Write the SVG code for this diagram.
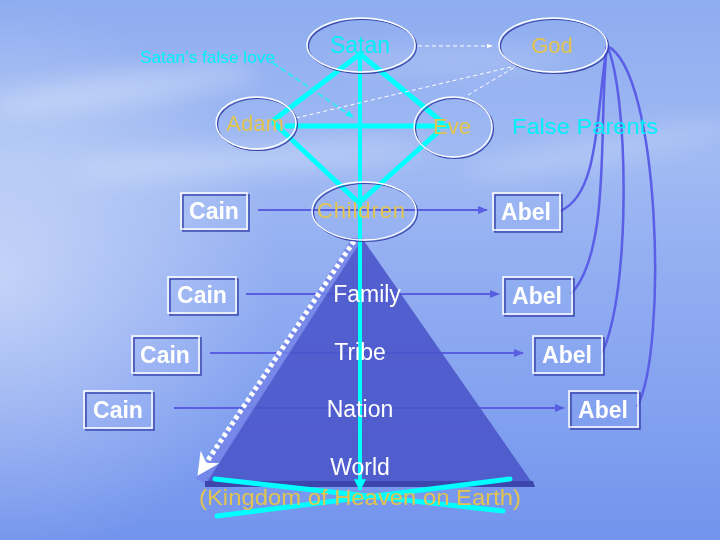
<svg xmlns="http://www.w3.org/2000/svg" width="720" height="540" viewBox="0 0 720 540">
<defs>
<linearGradient id="bg" x1="0" y1="0" x2="0" y2="1">
<stop offset="0" stop-color="#8eacf0"/>
<stop offset="0.3" stop-color="#a0baf3"/>
<stop offset="0.45" stop-color="#96b1f2"/>
<stop offset="1" stop-color="#7394ed"/>
</linearGradient>
<radialGradient id="glow" cx="0" cy="280" r="280" gradientUnits="userSpaceOnUse">
<stop offset="0" stop-color="#ffffff" stop-opacity="0.45"/>
<stop offset="1" stop-color="#ffffff" stop-opacity="0"/>
</radialGradient>
<filter id="blur" x="-50%" y="-50%" width="200%" height="200%"><feGaussianBlur stdDeviation="12"/></filter>
<marker id="ab" viewBox="0 0 10 10" refX="9" refY="5" markerWidth="5" markerHeight="5" orient="auto" markerUnits="strokeWidth">
<path d="M0,1 L10,5 L0,9 z" fill="#5a5ee0"/>
</marker>
<marker id="aw" viewBox="0 0 10 10" refX="9" refY="5" markerWidth="6" markerHeight="6" orient="auto" markerUnits="strokeWidth">
<path d="M0,1 L10,5 L0,9 z" fill="#ffffff"/>
</marker>
<marker id="ac" viewBox="0 0 10 10" refX="9" refY="5" markerWidth="4" markerHeight="4" orient="auto" markerUnits="strokeWidth">
<path d="M0,1 L10,5 L0,9 z" fill="#00ffff"/>
</marker>
<marker id="acv" viewBox="0 0 10 10" refX="9" refY="5" markerWidth="3" markerHeight="3" orient="auto" markerUnits="strokeWidth">
<path d="M0,0 L10,5 L0,10 z" fill="#00ffff"/>
</marker>
<marker id="adot" viewBox="0 0 10 10" refX="8" refY="5" markerWidth="4.5" markerHeight="4.5" orient="auto" markerUnits="strokeWidth">
<path d="M0,0 L10,5 L0,10 L3,5 z" fill="#ffffff"/>
</marker>
<style>
.ell{fill:none;stroke:#ffffff;stroke-width:1.3}
.ells{fill:none;stroke:#3a46a8;stroke-width:1.2}
.box{fill:none;stroke:#ffffff;stroke-width:1.5}
.boxs{fill:none;stroke:#3d48b0;stroke-width:1.5}
.bt{font-family:"Liberation Sans",Arial,sans-serif;font-weight:bold;font-size:23px;fill:#ffffff;text-anchor:middle}
.gold{font-family:"Liberation Sans",Arial,sans-serif;font-size:22px;fill:#e2c450;text-anchor:middle}
.cy{font-family:"Liberation Sans",Arial,sans-serif;fill:#00f0f8}
.wt{font-family:"Liberation Sans",Arial,sans-serif;font-size:23px;fill:#ffffff;text-anchor:middle}
.cyl{stroke:#00ffff;stroke-width:5;fill:none;stroke-linecap:round}
.bl{stroke:#5a5ee0;stroke-width:2;fill:none}
.cv{stroke:#5b5ee6;stroke-width:2.5;fill:none}
.wd{stroke:#ffffff;stroke-width:1;fill:none;stroke-dasharray:4 3}
</style>
</defs>

<g id="background">
<rect width="720" height="540" fill="url(#bg)"/>
<rect width="720" height="540" fill="url(#glow)"/>
<g filter="url(#blur)" fill="#ffffff">
<ellipse cx="120" cy="90" rx="140" ry="16" opacity="0.3" transform="rotate(-8 120 90)"/>
<ellipse cx="250" cy="160" rx="180" ry="12" opacity="0.3" transform="rotate(-4 250 160)"/>
<ellipse cx="600" cy="150" rx="140" ry="12" opacity="0.22" transform="rotate(-10 600 150)"/>
<ellipse cx="450" cy="60" rx="120" ry="12" opacity="0.18"/>
</g>
</g>

<g id="row-connectors">
<line class="bl" x1="258" y1="210" x2="487" y2="210" marker-end="url(#ab)"/>
<line class="bl" x1="246" y1="294" x2="499" y2="294" marker-end="url(#ab)"/>
<line class="bl" x1="210" y1="353" x2="523" y2="353" marker-end="url(#ab)"/>
<line class="bl" x1="174" y1="408" x2="564" y2="408" marker-end="url(#ab)"/>
</g>

<g id="pyramid">
<polygon points="362,238 533,484 205,484" fill="#4a54c8" opacity="0.88"/>
<polygon points="352,238 363,238 206,484 196,479" fill="#7484e8" opacity="0.85"/>
<polygon points="205,481 533,481 535,487 205,487" fill="#3c46ad"/>
</g>

<g id="connectors">
<line class="cyl" x1="360" y1="54" x2="274" y2="120"/>
<line class="cyl" x1="360" y1="54" x2="442" y2="122"/>
<line class="cyl" x1="287" y1="126" x2="448" y2="126"/>
<line class="cyl" x1="274" y1="123" x2="358" y2="202"/>
<line class="cyl" x1="438" y1="132" x2="360" y2="202"/>
<line stroke="#00ffff" stroke-width="4" x1="360" y1="54" x2="360" y2="490" marker-end="url(#acv)"/>
<line class="cyl" x1="215" y1="479" x2="503" y2="511" stroke-width="4"/>
<line class="cyl" x1="217" y1="516" x2="510" y2="479" stroke-width="4"/>
<line x1="354" y1="241" x2="200" y2="472" stroke="#ffffff" stroke-width="5" stroke-dasharray="4 3" marker-end="url(#adot)"/>
<line class="wd" x1="418" y1="46" x2="492" y2="46" stroke-width="1.6" marker-end="url(#aw)"/>
<line class="wd" x1="296" y1="118" x2="515" y2="66"/>
<line class="wd" x1="468" y1="95" x2="515" y2="67"/>
<line x1="273" y1="63" x2="353" y2="117" stroke="#33e8f8" stroke-width="2" stroke-dasharray="6 3" marker-end="url(#ac)"/>
<path class="cv" d="M607,46 C596,110 600,195 560,211"/>
<path class="cv" d="M607,46 C598,120 612,250 571,294"/>
<path class="cv" d="M607,46 C628,90 632,290 602,353"/>
<path class="cv" d="M607,46 C660,70 668,350 637,407"/>
</g>

<g id="satan">
<ellipse class="ells" cx="362.5" cy="46.5" rx="54" ry="27"/>
<ellipse class="ell" cx="361" cy="45" rx="54" ry="27"/>
<text class="cy" x="360" y="53" font-size="23" text-anchor="middle">Satan</text>
</g>
<g id="god">
<ellipse class="ells" cx="554.5" cy="46.5" rx="54" ry="27"/>
<ellipse class="ell" cx="553" cy="45" rx="54" ry="27"/>
<text class="gold" x="552" y="53" font-size="23">God</text>
</g>
<g id="adam">
<ellipse class="ells" cx="257.5" cy="124.5" rx="40" ry="26"/>
<ellipse class="ell" cx="256" cy="123" rx="40" ry="26"/>
<text class="gold" x="255" y="131">Adam</text>
</g>
<g id="eve">
<ellipse class="ells" cx="454.5" cy="128.5" rx="39" ry="30"/>
<ellipse class="ell" cx="453" cy="127" rx="39" ry="30"/>
<text class="gold" x="452" y="134">Eve</text>
</g>
<g id="children">
<ellipse class="ells" cx="365.5" cy="212.5" rx="52" ry="29"/>
<ellipse class="ell" cx="364" cy="211" rx="52" ry="29"/>
<text class="gold" x="361" y="218" textLength="88" font-size="22.5">Children</text>
</g>

<g id="false-love-label">
<text class="cy" x="140" y="63" font-size="17" textLength="135" lengthAdjust="spacingAndGlyphs">Satan’s false love</text>
</g>
<g id="false-parents-label">
<text class="cy" x="512" y="134" font-size="22" textLength="146" lengthAdjust="spacingAndGlyphs">False Parents</text>
</g>

<g id="levels">
<text class="wt" x="367" y="302">Family</text>
<text class="wt" x="360" y="360">Tribe</text>
<text class="wt" x="360" y="417">Nation</text>
<text class="wt" x="360" y="475">World</text>
<text class="gold" x="360" y="505" font-size="23" textLength="322" lengthAdjust="spacingAndGlyphs">(Kingdom of Heaven on Earth)</text>
</g>

<g id="cain1"><rect class="boxs" x="183" y="195" width="66" height="36"/><rect class="box" x="181" y="193" width="66" height="36"/><text class="bt" x="214" y="219">Cain</text></g>
<g id="cain2"><rect class="boxs" x="170" y="279" width="68" height="36"/><rect class="box" x="168" y="277" width="68" height="36"/><text class="bt" x="202" y="303">Cain</text></g>
<g id="cain3"><rect class="boxs" x="134" y="338" width="67" height="37"/><rect class="box" x="132" y="336" width="67" height="37"/><text class="bt" x="165" y="363">Cain</text></g>
<g id="cain4"><rect class="boxs" x="86" y="393" width="68" height="37"/><rect class="box" x="84" y="391" width="68" height="37"/><text class="bt" x="118" y="418">Cain</text></g>

<g id="abel1"><rect class="boxs" x="495" y="195" width="67" height="37"/><rect class="box" x="493" y="193" width="67" height="37"/><text class="bt" x="526" y="220">Abel</text></g>
<g id="abel2"><rect class="boxs" x="505" y="279" width="69" height="37"/><rect class="box" x="503" y="277" width="69" height="37"/><text class="bt" x="537" y="304">Abel</text></g>
<g id="abel3"><rect class="boxs" x="535" y="338" width="69" height="37"/><rect class="box" x="533" y="336" width="69" height="37"/><text class="bt" x="567" y="363">Abel</text></g>
<g id="abel4"><rect class="boxs" x="571" y="393" width="69" height="36"/><rect class="box" x="569" y="391" width="69" height="36"/><text class="bt" x="603" y="418">Abel</text></g>
</svg>
